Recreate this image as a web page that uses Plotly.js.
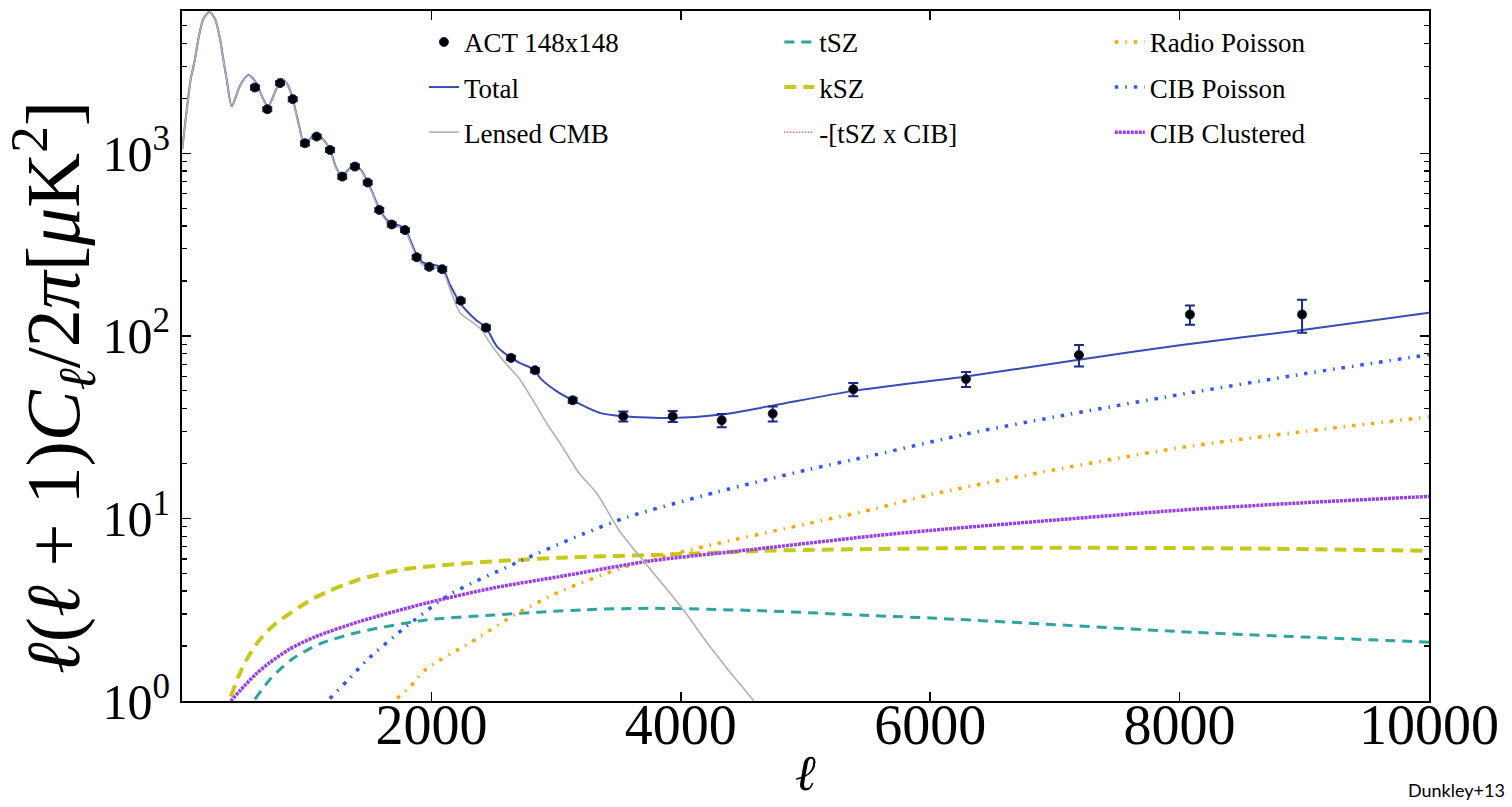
<!DOCTYPE html>
<html>
<head>
<meta charset="utf-8">
<script src="https://cdn.plot.ly/plotly-3.0.1.min.js"></script>
<style>html,body{margin:0;padding:0;background:#fff;}#chart{width:1512px;height:807px;}</style>
</head>
<body>
<div id="chart"></div>
<script>
// ---------- data ----------
const actEll = [585, 684, 786, 888, 986, 1080, 1187, 1285, 1387, 1489, 1582, 1682, 1788, 1881, 1983, 2087, 2235, 2438, 2639, 2831, 3133, 3539, 3935, 4328, 4737, 5383, 6287, 7193, 8083, 8982];
const actVal = [2296, 1746, 2426, 1982, 1136, 1236, 1044, 746, 847, 692, 490, 408, 380, 270, 239, 232, 156, 111, 75.8, 64.9, 44.4, 36.3, 36.3, 34.5, 37.5, 51, 58, 78.6, 131, 131];
const actErr = [60, 45, 60, 50, 30, 30, 26, 19, 21, 17, 12, 10, 9, 7, 6, 6, 4, 3, 2, 1.8, 1.5, 2.3, 2.5, 2.9, 3.5, 4.3, 5.5, 10.5, 16, 27];

const totalEll = [2, 30, 70, 104, 131, 171, 219, 265, 305, 331, 358, 399, 465, 532, 593, 640, 690, 745, 802, 850, 888, 935, 980, 1030, 1075, 1130, 1187, 1235, 1283, 1330, 1380, 1430, 1489, 1582, 1635, 1682, 1740, 1788, 1835, 1881, 1930, 1983, 2030, 2087, 2150, 2235, 2283, 2360, 2438, 2523, 2639, 2711, 2831, 2871, 3000, 3133, 3352, 3539, 3935, 4328, 4737, 5383, 6287, 7193, 8000, 9000, 10000];
const totalVal = [1055, 1555, 2555, 3285, 4235, 5445, 5955, 5445, 4235, 3285, 2555, 1812, 2350, 2688, 2453, 2058, 1798, 2158, 2558, 2358, 1990, 1458, 1128, 1208, 1282, 1198, 1052, 838, 748, 808, 868, 818, 700, 498, 438, 416, 403, 388, 328, 278, 253, 247, 244, 238, 190, 150, 137, 122, 111, 88, 75.8, 71, 64.9, 58.9, 50, 44.4, 37.9, 36.3, 35.5, 37.1, 41.5, 50, 60, 74, 89, 108, 134];

const cmbEll = [2, 30, 70, 104, 131, 171, 219, 265, 305, 331, 358, 399, 465, 532, 593, 640, 690, 745, 802, 850, 888, 935, 980, 1030, 1075, 1130, 1187, 1235, 1283, 1330, 1380, 1430, 1489, 1582, 1635, 1682, 1740, 1788, 1835, 1881, 1930, 1983, 2030, 2087, 2150, 2229, 2320, 2403, 2443, 2520, 2604, 2711, 2844, 2940, 3031, 3190, 3327, 3507, 3724, 4011, 4228, 4587, 4700];
const cmbVal = [1050, 1550, 2550, 3280, 4230, 5440, 5950, 5440, 4230, 3280, 2550, 1806, 2343, 2680, 2445, 2050, 1790, 2150, 2550, 2350, 1982, 1450, 1120, 1200, 1274, 1190, 1044, 830, 740, 800, 860, 810, 692, 490, 430, 408, 395, 380, 320, 270, 245, 239, 236, 230, 180, 134, 120, 108, 97.6, 82, 69.7, 57.6, 41.1, 32, 25.9, 17.5, 13.7, 8.57, 5.6, 3.22, 2.01, 1.0, 0.82];

const tszEll = [520, 576, 700, 790, 884, 1100, 1422, 1960, 2502, 3220, 3760, 4660, 5557, 6000, 7000, 8000, 9000, 10000];
const tszVal = [0.85, 1.0, 1.3, 1.5, 1.70, 2.05, 2.39, 2.78, 2.96, 3.16, 3.22, 3.12, 2.93, 2.85, 2.62, 2.4, 2.24, 2.1];

const kszEll = [330, 378, 450, 521, 620, 738, 1062, 1420, 1780, 2318, 3040, 3938, 4660, 5557, 6500, 7500, 8500, 10000];
const kszVal = [0.85, 1.0, 1.35, 1.70, 2.15, 2.61, 3.67, 4.63, 5.26, 5.71, 6.1, 6.36, 6.65, 6.8, 6.9, 6.9, 6.85, 6.65];

const tszCibEll = [500, 2000, 4000, 6000, 8000, 10000];
const tszCibVal = [0.1, 0.4, 0.6, 0.6, 0.55, 0.5];

const radioEll = [1640, 1708, 1830, 1960, 2318, 2680, 3040, 3577, 4298, 4836, 5557, 6000, 7000, 8000, 9000, 10000];
const radioVal = [0.85, 1.0, 1.2, 1.50, 2.1, 3.0, 4.0, 5.5, 7.3, 8.8, 11.3, 13.5, 18.5, 24.4, 30, 36];

const cibpEll = [1100, 1169, 1330, 1493, 1780, 2141, 2680, 3220, 3577, 4298, 5020, 5557, 6287, 7000, 8000, 9000, 10000];
const cibpVal = [0.85, 1.0, 1.3, 1.70, 2.50, 3.81, 5.71, 8.24, 10.2, 14.0, 18.5, 22.3, 29, 36, 47.7, 62, 79];

const ciboEll = [340, 393, 500, 600, 702, 860, 1062, 1420, 1960, 2502, 3040, 3760, 4479, 5557, 6000, 7000, 8000, 9000, 10000];
const ciboVal = [0.88, 1.0, 1.21, 1.42, 1.62, 1.92, 2.24, 2.72, 3.44, 4.17, 4.82, 5.86, 6.65, 8.04, 8.6, 9.8, 11.1, 12.2, 13.2];

const xTickVals = [0, 2000, 4000, 6000, 8000, 10000];
const xTickText = ['', '2000', '4000', '6000', '8000', '10000'];
const yTickVals = [1, 10, 100, 1000];
const yTickText = ['10<sup>0</sup>', '10<sup>1</sup>', '10<sup>2</sup>', '10<sup>3</sup>'];
const yMinorVals = [2, 3, 4, 5, 6, 7, 8, 9, 20, 30, 40, 50, 60, 70, 80, 90, 200, 300, 400, 500, 600, 700, 800, 900, 2000, 3000, 4000, 5000];

// ---------- traces ----------
const serif = 'Liberation Serif';
function line(name, x, y, color, width, dash, legend, rank) {
  return {
    type: 'scatter', mode: 'lines', name: name, x: x, y: y,
    line: {color: color, width: width, dash: dash, shape: 'spline', smoothing: 0.7},
    legend: legend, legendgroup: name, legendrank: rank, hoverinfo: 'skip'
  };
}
const traces = [
  line('-[tSZ x CIB]', tszCibEll, tszCibVal, '#cc3333', 1.5, '1px,2px', 'legend2', 3),
  line('tSZ', tszEll, tszVal, '#2ca5a0', 3, '10px,7px', 'legend2', 1),
  line('kSZ', kszEll, kszVal, '#c8c81a', 4, '12px,7px', 'legend2', 2),
  line('Radio Poisson', radioEll, radioVal, '#ffa500', 3.5, '3.5px,7px,1.5px,7px', 'legend3', 1),
  line('CIB Poisson', cibpEll, cibpVal, '#2f55ff', 3.5, '3.5px,7px,1.5px,7px', 'legend3', 2),
  line('CIB Clustered', ciboEll, ciboVal, '#9a3cf0', 3.5, '3px,1px', 'legend3', 3),
  line('Total', totalEll, totalVal, '#3a4bb8', 2, 'solid', 'legend', 2),
  line('Lensed CMB', cmbEll, cmbVal, '#b0b0b0', 1.6, 'solid', 'legend', 3),
  {
    type: 'scatter', mode: 'markers', name: 'ACT 148x148', x: actEll, y: actVal,
    marker: {color: '#000000', size: 9, symbol: 'circle', line: {color: '#10205a', width: 1}},
    error_y: {type: 'data', array: actErr, visible: true, color: '#1c2a8c', thickness: 2, width: 5},
    legend: 'legend', legendgroup: 'ACT', legendrank: 1, hoverinfo: 'skip'
  }
];

function leg(x) {
  return {x: x, y: 0.99, xanchor: 'left', yanchor: 'top', bgcolor: 'rgba(0,0,0,0)',
          borderwidth: 0, font: {family: serif, size: 27, color: '#000'},
          traceorder: 'grouped', tracegroupgap: 7};
}

const layout = {
  width: 1512, height: 807,
  font: {family: serif, size: 27, color: '#000'},
  margin: {l: 182, r: 83, t: 11, b: 106, pad: 0},
  paper_bgcolor: '#ffffff', plot_bgcolor: '#ffffff',
  showlegend: true,
  legend: leg(0.194),
  legend2: leg(0.479),
  legend3: leg(0.744),
  xaxis: {
    range: [0, 10000], tickvals: xTickVals, ticktext: xTickText,
    ticks: 'inside', ticklen: 9, tickwidth: 1.5, tickcolor: '#000',
    showline: true, linecolor: '#000', linewidth: 2, mirror: 'ticks',
    showgrid: false, zeroline: false, ticklabelstandoff: -26,
    tickfont: {family: serif, size: 56, color: '#000'},
    title: {text: '<i>ℓ</i>', font: {family: serif, size: 50, color: '#000'}, standoff: 0}
  },
  yaxis: {
    type: 'log', range: [0, 3.78], tickvals: yTickVals, ticktext: yTickText,
    ticks: 'inside', ticklen: 9, tickwidth: 1.5, tickcolor: '#000',
    minor: {tickvals: yMinorVals, ticks: 'inside', ticklen: 5, tickcolor: '#000', tickwidth: 1.2, showgrid: false},
    showline: true, linecolor: '#000', linewidth: 2, mirror: 'ticks',
    showgrid: false, zeroline: false,
    tickfont: {family: serif, size: 50, color: '#000'},
    title: {text: ''}
  },
  annotations: [
    {
      text: '<i>ℓ</i>(<i>ℓ</i> + 1)<i>C<sub>ℓ</sub></i>/2<i>π</i>[<i>μ</i>K<sup>2</sup>]',
      xref: 'paper', yref: 'paper', x: (53 - 182) / 1247, y: (701 - 388) / 690,
      xanchor: 'center', yanchor: 'middle', textangle: -90, showarrow: false,
      font: {family: serif, size: 76, color: '#000'}
    },
    {
      text: 'Dunkley+13', xref: 'paper', yref: 'paper',
      x: (1507 - 182) / 1247, y: (701 - 790) / 690,
      xanchor: 'right', yanchor: 'middle', showarrow: false,
      font: {family: 'Lato', size: 18, color: '#000'}
    }
  ]
};

Plotly.newPlot('chart', traces, layout, {displayModeBar: false, staticPlot: true});
</script>
</body>
</html>
